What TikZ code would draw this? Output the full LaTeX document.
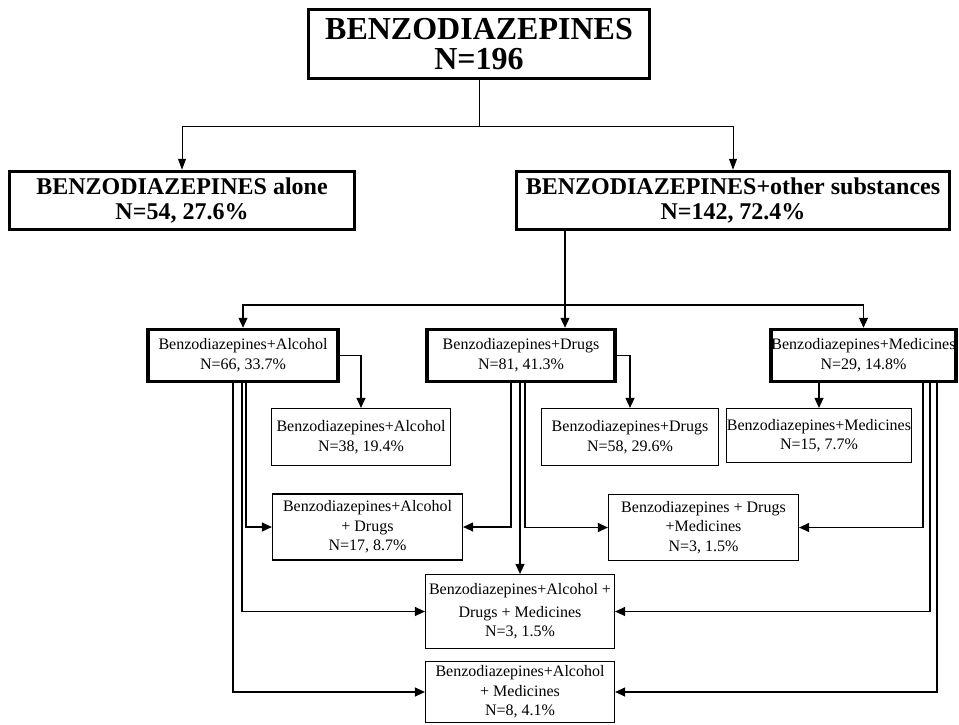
\documentclass[tikz,border=0pt]{standalone}
\usepackage{fontspec}
\setmainfont{Liberation Serif}
\usetikzlibrary{arrows.meta}
\begin{document}
\begin{tikzpicture}[x=1pt,y=-1pt,
  titlebox/.style={draw,line width=3.5pt,inner sep=0pt,align=center,font=\bfseries\fontsize{32}{30}\selectfont},
  lvlbox/.style={draw,line width=3.5pt,inner sep=0pt,align=center,font=\bfseries\fontsize{24}{25}\selectfont},
  midbox/.style={draw,line width=3.5pt,inner sep=0pt,align=center,font=\fontsize{16}{20}\selectfont},
  thinbox/.style={draw,line width=1.2pt,inner sep=0pt,align=center,font=\fontsize{16}{19.5}\selectfont},
  conn/.style={line width=1.2pt},
  thinconn/.style={line width=0.9pt},
  arr/.style={-{Triangle[length=10pt,width=9pt]}},
  toparr/.style={-{Triangle[length=11pt,width=8pt]}}
]
\fill[white] (0,0) rectangle (959,725);
\useasboundingbox (0,0) rectangle (959,725);

% boxes
\node[titlebox, minimum width=341pt, minimum height=69pt] (top) at (479,44) {BENZODIAZEPINES\\N=196};
\node[lvlbox, minimum width=345pt, minimum height=58pt] (alone) at (182,200.5) {BENZODIAZEPINES alone\\N=54, 27.6\%};
\node[lvlbox, minimum width=433pt, minimum height=58pt] (other) at (733,200.5) {BENZODIAZEPINES+other substances\\N=142, 72.4\%};

\node[midbox, minimum width=190pt, minimum height=52pt] (alc) at (243,355.5) {Benzodiazepines+Alcohol\\N=66, 33.7\%};
\node[midbox, minimum width=188pt, minimum height=52pt] (drg) at (521,355.5) {Benzodiazepines+Drugs\\N=81, 41.3\%};
\node[midbox, minimum width=185pt, minimum height=52pt] (med) at (863.5,355.5) {Benzodiazepines+Medicines\\N=29, 14.8\%};

\node[thinbox, minimum width=179pt, minimum height=57pt] (alc38) at (361,437) {Benzodiazepines+Alcohol\\N=38, 19.4\%};
\node[thinbox, minimum width=177pt, minimum height=57pt] (drg58) at (630,437) {Benzodiazepines+Drugs\\N=58, 29.6\%};
\node[thinbox, minimum width=185pt, minimum height=54pt] (med15) at (819,435.5) {Benzodiazepines+Medicines\\N=15, 7.7\%};

\node[thinbox, minimum width=190pt, minimum height=66pt] (ad17) at (367.5,527) {Benzodiazepines+Alcohol\\+ Drugs\\N=17, 8.7\%};
\node[thinbox, minimum width=190pt, minimum height=66pt] (dm3) at (703.5,527.5) {Benzodiazepines + Drugs\\+Medicines\\N=3, 1.5\%};
\node[thinbox, minimum width=189pt, minimum height=74pt] (adm3) at (520,611.5) {Benzodiazepines+Alcohol +\\[3pt]Drugs + Medicines\\N=3, 1.5\%};
\node[thinbox, minimum width=189pt, minimum height=61pt] (am8) at (520,692) {Benzodiazepines+Alcohol\\+ Medicines\\N=8, 4.1\%};

% top connectors
\coordinate (j1) at (479,126);
\draw[thinconn] (top.south) -- (j1);
\draw[thinconn,toparr] (j1) -| (alone.north);
\draw[thinconn,toparr] (j1) -| (other.north);

\coordinate (j2) at (565,305);
\draw[conn] (other.south -| j2) -- (j2);
\draw[conn,arr] (j2) -- (drg.north -| j2);
\draw[conn,arr] (j2) -| (alc.north);
\draw[conn,arr] (j2) -| (med.north);

% to single-combination boxes
\draw[conn,arr] (alc.east) -| (alc38.north);
\draw[conn,arr] (drg.east) -| (drg58.north);
\draw[conn,arr] (med.south -| med15.north) -- (med15.north);

% to multi-combination boxes
\draw[conn,arr] ([xshift=3pt]alc.south) |- (ad17.west);
\draw[conn,arr] ([xshift=-1pt]alc.south) |- (adm3.west);
\draw[conn,arr] ([xshift=-10pt]alc.south) |- (am8.west);
\draw[conn,arr] ([xshift=-10pt]drg.south) |- (ad17.east);
\draw[conn,arr] (drg.south -| adm3.north) -- (adm3.north);
\draw[conn,arr] ([xshift=4pt]drg.south) |- (dm3.west);
\draw[conn,arr] ([xshift=59.5pt]med.south) |- (dm3.east);
\draw[conn,arr] ([xshift=66.5pt]med.south) |- (adm3.east);
\draw[conn,arr] ([xshift=73.5pt]med.south) |- (am8.east);
\end{tikzpicture}
\end{document}
